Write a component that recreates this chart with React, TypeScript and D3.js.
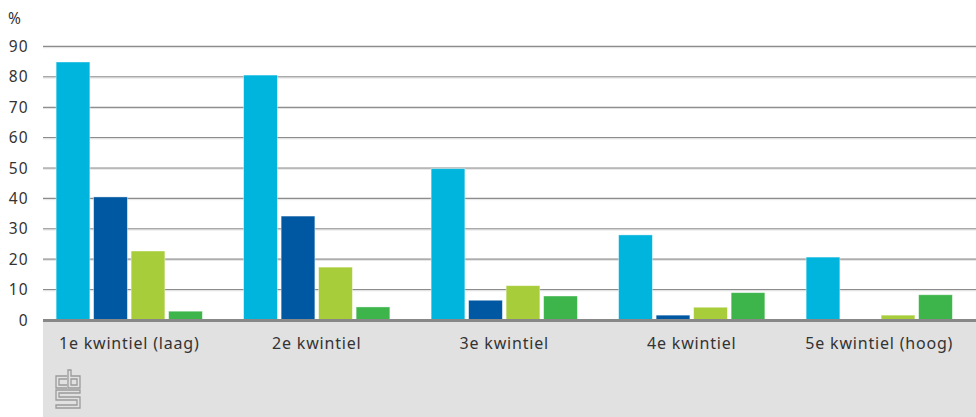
import React from "react";
import * as d3 from "d3";

const categories = ["1e kwintiel (laag)", "2e kwintiel", "3e kwintiel", "4e kwintiel", "5e kwintiel (hoog)"];
const seriesNames = ["s1", "s2", "s3", "s4"];
const series1 = [84.9, 80.6, 49.8, 28.0, 20.7];
const series2 = [40.5, 34.2, 6.5, 1.6, 0];
const series3 = [22.7, 17.4, 11.3, 4.2, 1.6];
const series4 = [2.9, 4.3, 7.9, 9.0, 8.3];
const colors = ["#00b5dd", "#0058a3", "#a8cd3a", "#3db54b"];
const yTicks = [0, 10, 20, 30, 40, 50, 60, 70, 80, 90];

const W = 976;
const H = 417;

export default function App() {
  const allSeries = [series1, series2, series3, series4];
  const y = d3.scaleLinear().domain([0, 90]).range([320, 46.5]);
  const x0 = d3.scaleBand<string>().domain(categories).range([35.5, 973]).paddingInner(0.22).paddingOuter(0.11);
  const x1 = d3.scaleBand<string>().domain(seriesNames).range([0, x0.bandwidth()]).paddingInner(0.1);
  const font = "'Noto Sans', 'Open Sans', sans-serif";
  return (
    <svg width={W} height={H} style={{ position: "absolute", left: 0, top: 0 }}>
      <rect x={0} y={0} width={W} height={H} fill="#fff" />
      <rect x={43} y={320} width={W - 43} height={H - 320} fill="#e1e1e1" />
      {yTicks.map((t) =>
        t === 0 ? null : (
          <g key={t}>
            <line x1={43} x2={W} y1={y(t)} y2={y(t)} stroke="#8c8c8c" strokeWidth={1.3} />
            <line x1={43} x2={W} y1={y(t) + 1.2} y2={y(t) + 1.2} stroke="#e4e4e4" strokeWidth={1} />
          </g>
        )
      )}
      {yTicks.map((t) => (
        <text key={"l" + t} x={28.5} y={y(t) + 5.5} textAnchor="end" fontFamily={font} fontSize={15.5} letterSpacing={1} fill="#333">
          {t}
        </text>
      ))}
      <text x={8} y={24} fontFamily={font} fontSize={15.5} fill="#333">%</text>
      {categories.map((c, ci) => (
        <g key={c} transform={`translate(${x0(c)},0)`}>
          {allSeries.map((s, si) =>
            s[ci] > 0 ? (
              <rect
                key={si}
                x={x1(seriesNames[si])}
                width={x1.bandwidth()}
                y={y(s[ci])}
                height={y(0) - y(s[ci])}
                fill={colors[si]}
                stroke="#ffffff"
                strokeOpacity={0.5}
                strokeWidth={0.8}
              />
            ) : null
          )}
          <text
            x={x0.bandwidth() / 2}
            y={349}
            textAnchor="middle"
            fontFamily={font}
            fontSize={16}
            letterSpacing={0.8}
            fill="#333"
          >
            {c}
          </text>
        </g>
      ))}
      <line x1={43} x2={W} y1={320.5} y2={320.5} stroke="#888" strokeWidth={3} />
      <g fill="none" stroke="#9a9a9a" strokeWidth={1.3}>
        <path d="M67,376 H56 V388 H67 M67,379 H59 V385 H67" />
        <path d="M68,370 V388 H80 V376 H71 V370 Z M71,379 H77 V385 H71 Z" />
        <path d="M80,390 H56 V400 H77 V405 H56 V408 H80 V397 H59 V393 H80 Z" />
      </g>
    </svg>
  );
}
